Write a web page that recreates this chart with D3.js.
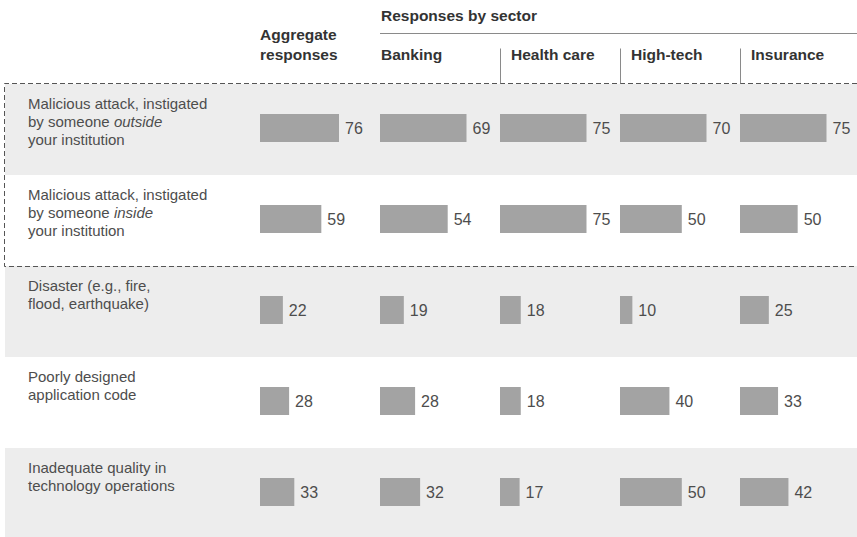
<!DOCTYPE html>
<html>
<head>
<meta charset="utf-8">
<script src="https://cdn.jsdelivr.net/npm/d3@7"></script>
<style>
  html, body { margin: 0; padding: 0; background: #fff; }
  svg { display: block; font-family: "Liberation Sans", Arial, Helvetica, sans-serif; }
</style>
</head>
<body>
<svg id="chart" width="857" height="537"></svg>
<script>
// Risk sources (row labels; *word* is set in italics)
const causes = [
  ["Malicious attack, instigated", "by someone *outside*", "your institution"],
  ["Malicious attack, instigated", "by someone *inside*", "your institution"],
  ["Disaster (e.g., fire,", "flood, earthquake)"],
  ["Poorly designed", "application code"],
  ["Inadequate quality in", "technology operations"]
];

// Column headings
const columns = ["Aggregate responses", "Banking", "Health care", "High-tech", "Insurance"];
const groupTitle = "Responses by sector";

// Responses (%), one array per column, in row order
const aggregate  = [76, 59, 22, 28, 33];
const banking    = [69, 54, 19, 28, 32];
const healthCare = [75, 75, 18, 18, 17];
const highTech   = [70, 50, 10, 40, 50];
const insurance  = [75, 50, 25, 33, 42];

const series = [aggregate, banking, healthCare, highTech, insurance];

// ---- layout ----
const W = 857, H = 537;
const svg = d3.select("#chart");

const rowIdx = d3.range(causes.length);
const y = d3.scaleBand().domain(rowIdx).range([84, 539]).padding(0);
const x = d3.scaleBand().domain(columns).range([260, 860]).padding(0);

// each column is scaled to its own maximum
const barMax = col => (col === 0 ? 79 : 86.5);
const widthScales = series.map((vals, i) =>
  d3.scaleLinear().domain([0, d3.max(vals)]).range([0, barMax(i)]));

const barH = 28, barTop = 30;
const textCol = "#4d4d4d", headCol = "#333";

// alternating row bands
svg.append("g").selectAll("rect")
  .data(rowIdx.filter(i => i % 2 === 0))
  .join("rect")
  .attr("x", 5)
  .attr("y", i => y(i))
  .attr("width", W - 5)
  .attr("height", i => Math.min(y.bandwidth(), H - y(i)))
  .attr("fill", "#ededed");

// dashed outline around the two malicious-attack rows
const boxTop = y(0) - 0.5, boxBot = y(2) + 0.5;
svg.append("path")
  .attr("d", `M${W},${boxTop}H4.5V${boxBot}H${W}`)
  .attr("fill", "none")
  .attr("stroke", "#555")
  .attr("stroke-width", 1)
  .attr("stroke-dasharray", "5,3");

// headers
const head = svg.append("g")
  .attr("font-weight", "bold")
  .attr("font-size", "15.5px")
  .attr("fill", headCol);

head.append("text")
  .attr("x", x(columns[1]) + 1)
  .attr("y", 21)
  .text(groupTitle);

svg.append("line")
  .attr("x1", x(columns[1])).attr("x2", W)
  .attr("y1", 33.5).attr("y2", 33.5)
  .attr("stroke", "#8a8a8a").attr("stroke-width", 1);

const aggWords = columns[0].split(" ");
head.append("text")
  .attr("x", x(columns[0]))
  .selectAll("tspan")
  .data(aggWords)
  .join("tspan")
  .attr("x", x(columns[0]))
  .attr("y", (d, i) => 39.5 + i * 20)
  .text(d => d);

head.selectAll("text.sector")
  .data(columns.slice(1))
  .join("text")
  .attr("class", "sector")
  .attr("x", (d, i) => x(d) + (i === 0 ? 1 : 11))
  .attr("y", 59.5)
  .text(d => d);

// separators between sectors
svg.append("g").selectAll("line")
  .data(columns.slice(2))
  .join("line")
  .attr("x1", d => x(d) + 0.5).attr("x2", d => x(d) + 0.5)
  .attr("y1", 48.5).attr("y2", y(0) - 0.5)
  .attr("stroke", "#8a8a8a").attr("stroke-width", 1);

// row labels
const labels = svg.append("g")
  .attr("font-size", "15px")
  .attr("fill", textCol);

labels.selectAll("text")
  .data(causes)
  .join("text")
  .each(function (lines, i) {
    const t = d3.select(this);
    lines.forEach((line, j) => {
      const parts = line.split(/(\*[^*]+\*)/).filter(s => s.length);
      parts.forEach((p, k) => {
        const italic = p.startsWith("*");
        const ts = t.append("tspan")
          .text(italic ? p.slice(1, -1) : p)
          .attr("font-style", italic ? "italic" : null);
        if (k === 0) ts.attr("x", 28).attr("y", y(i) + 24.5 + j * 18);
      });
    });
  });

// bars and value labels
columns.forEach((col, c) => {
  const g = svg.append("g");
  const ws = widthScales[c];
  const vals = series[c];

  g.selectAll("rect")
    .data(vals)
    .join("rect")
    .attr("x", x(col))
    .attr("y", (d, i) => y(i) + barTop)
    .attr("width", d => ws(d))
    .attr("height", barH)
    .attr("fill", "#a3a3a3");

  g.selectAll("text")
    .data(vals)
    .join("text")
    .attr("x", d => x(col) + ws(d) + 6)
    .attr("y", (d, i) => y(i) + barTop + barH / 2)
    .attr("dy", "0.35em")
    .attr("font-size", "16px")
    .attr("fill", textCol)
    .text(d => d);
});
</script>
</body>
</html>
